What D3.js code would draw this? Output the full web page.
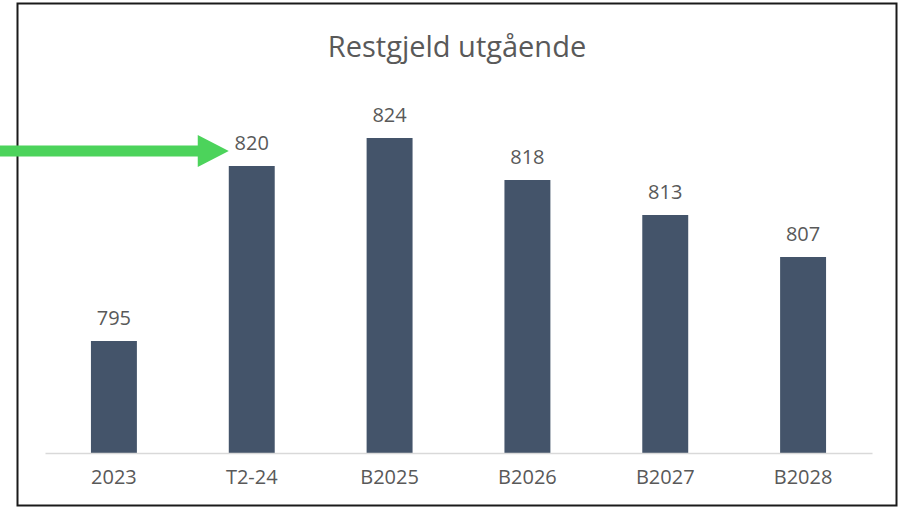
<!DOCTYPE html>
<meta charset="utf-8">
<title>Restgjeld utgående</title>
<style>
  html, body { margin: 0; padding: 0; background: #fff; }
  svg { display: block; }
  text { font-family: 'Open Sans', Arial, sans-serif; fill: #595959; }
</style>
<body>
<script src="https://d3js.org/d3.v7.min.js"></script>
<script>

// chart data
var categories = ["2023", "T2-24", "B2025", "B2026", "B2027", "B2028"];
var values = [795, 820, 824, 818, 813, 807];
var title = "Restgjeld utgående";
var highlighted = "T2-24";

var width = 899, height = 508;

var svg = d3.select("body").append("svg")
    .attr("width", width)
    .attr("height", height);

// frame around the chart
svg.append("rect")
    .attr("x", 17.5).attr("y", 3.5)
    .attr("width", 879).attr("height", 502)
    .attr("fill", "#fff")
    .attr("stroke", "#1a1a1a")
    .attr("stroke-width", 2);

// scales
var x = d3.scaleBand()
    .domain(categories)
    .range([45, 872])
    .paddingInner(2 / 3)
    .paddingOuter(1 / 3);

var y = d3.scaleLinear()
    .domain([779, 824])
    .range([453, 138]);

// title
svg.append("text")
    .attr("x", 457)
    .attr("y", 57)
    .attr("text-anchor", "middle")
    .style("font-size", "29px")
    .text(title);

// bars
svg.selectAll(".bar")
    .data(values)
  .enter().append("rect")
    .attr("class", "bar")
    .attr("x", function(d, i) { return x(categories[i]); })
    .attr("y", function(d) { return y(d); })
    .attr("width", x.bandwidth())
    .attr("height", function(d) { return y.range()[0] - y(d); })
    .attr("fill", "#44546a");

// value labels
svg.selectAll(".label")
    .data(values)
  .enter().append("text")
    .attr("class", "label")
    .attr("x", function(d, i) { return x(categories[i]) + x.bandwidth() / 2; })
    .attr("y", function(d) { return y(d) - 16; })
    .attr("text-anchor", "middle")
    .style("font-size", "20px")
    .text(function(d) { return d; });

// x axis
var axis = svg.append("g")
    .attr("transform", "translate(0," + y.range()[0] + ")")
    .call(d3.axisBottom(x).tickSize(0).tickPadding(17));
axis.select(".domain").attr("stroke", "#d9d9d9").attr("stroke-width", 1.5);
axis.selectAll("text")
    .style("font-size", "20px")
    .style("font-family", "'Open Sans', Arial, sans-serif")
    .attr("fill", "#6b6b6b");

// green arrow pointing at the highlighted label
var idx = categories.indexOf(highlighted);
var tipX = x(highlighted) + x.bandwidth() / 2 - 23;
var tipY = y(values[idx]) - 15;
var arrow = svg.append("g").attr("fill", "#4cd35b");
arrow.append("rect")
    .attr("x", 0)
    .attr("y", tipY - 5.5)
    .attr("width", tipX - 28)
    .attr("height", 11);
arrow.append("path")
    .attr("d", d3.line()([[tipX - 31, tipY - 16], [tipX, tipY], [tipX - 31, tipY + 16]]));

</script>
</body>
